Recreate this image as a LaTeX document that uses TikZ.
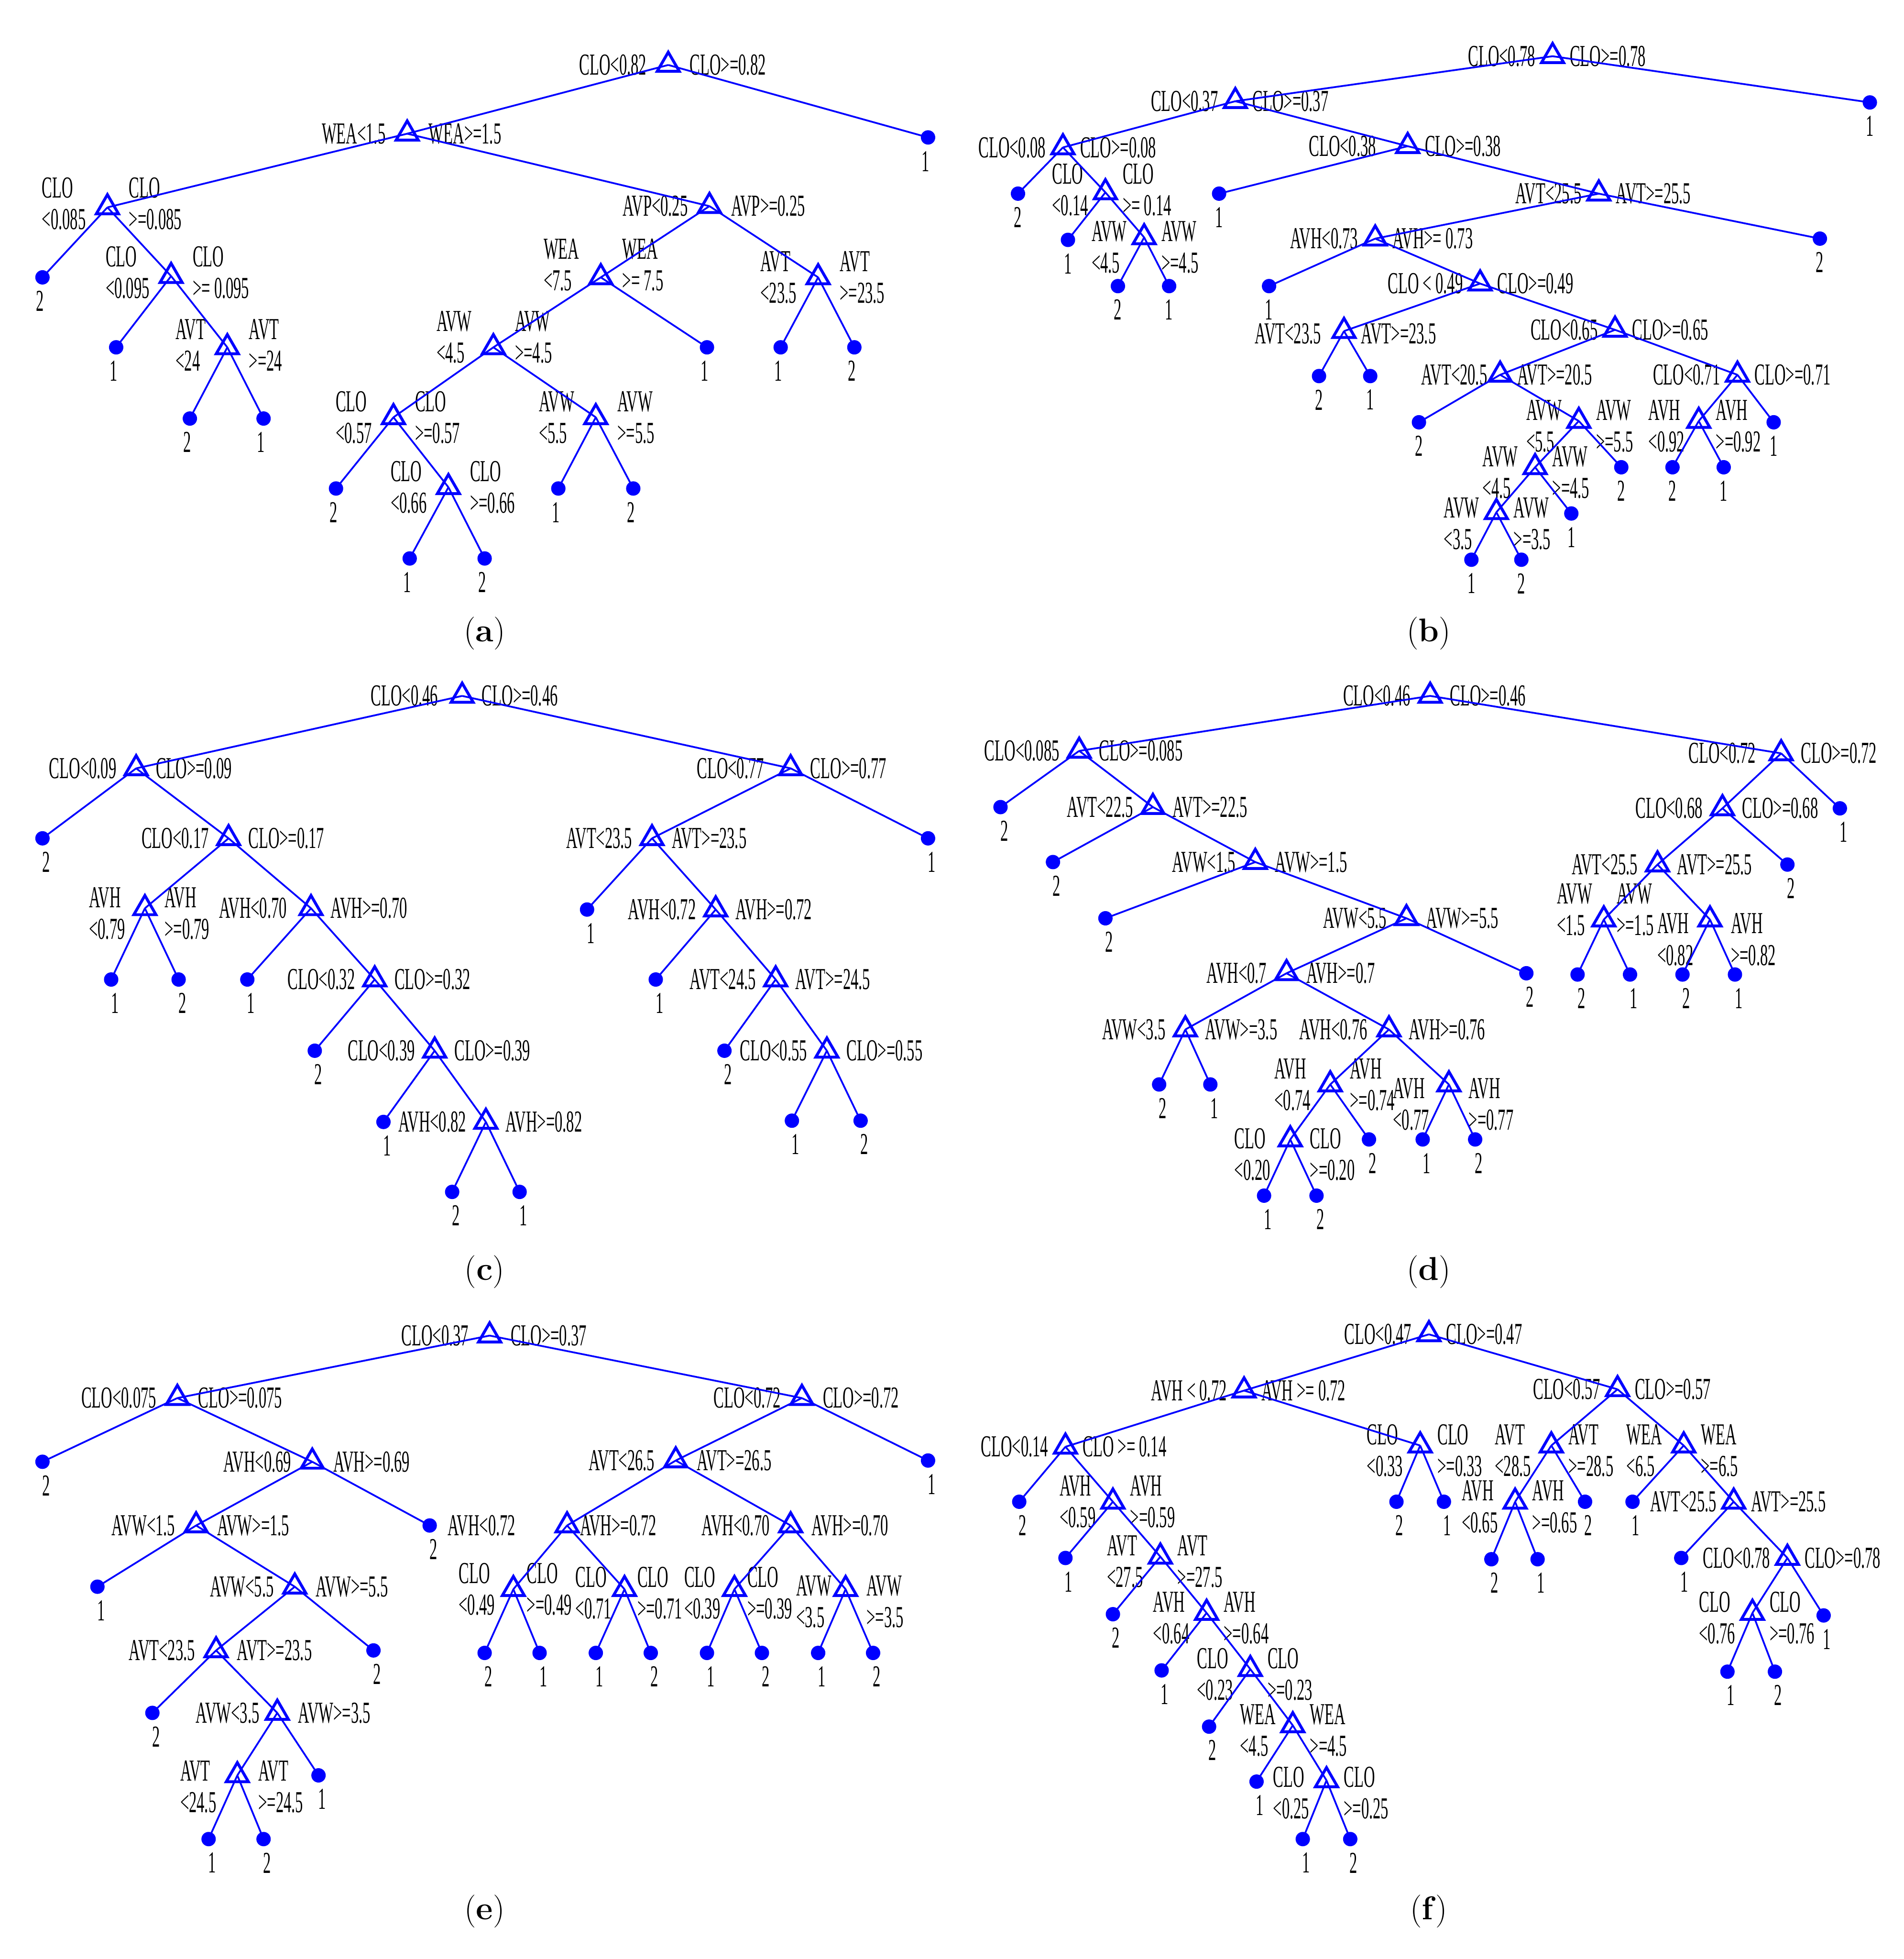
\documentclass[tikz,border=0pt]{standalone}
\usepackage{fontspec}
\usepackage{tikz}
\usetikzlibrary{shapes.geometric,calc}
\newfontfamily\treefont{Liberation Serif}[FakeStretch=0.51]
\definecolor{TreeBlue}{RGB}{0,0,255}
\tikzset{
  branch/.style={draw=TreeBlue,line width=0.8pt},
  splitnode/.style={regular polygon,regular polygon sides=3,draw=TreeBlue,line width=1.3pt,inner sep=0pt,minimum size=4.1mm},
  leafnode/.style={circle,fill=TreeBlue,inner sep=0pt,minimum size=2.3mm},
  rulelabel/.style={font={\treefont\fontsize{13.9}{14.4}\selectfont},inner sep=0pt,align=left},
  classlabel/.style={font={\treefont\fontsize{13.9}{14.4}\selectfont},inner sep=0pt},
  panellabel/.style={font={\fontsize{15}{18}\selectfont},inner sep=0pt}
}
\newcommand{\rulegap}{16}
\newcommand{\leafdx}{0}
\newcommand{\tsplitat}[7]{%
  \node[splitnode] (#1) at (#2) {};
  \node[rulelabel,anchor=east] (#1-lt) at ($(#1.center)+(-#6,#5)$) {#3};
  \node[rulelabel,anchor=west] (#1-rt) at ($(#1.center)+(#7,#5)$) {#4};
}
\newcommand{\tsplit}[6][\rulegap]{\tsplitat{#2}{#3}{#4}{#5}{#6}{#1}{\rulegap}}
\newcommand{\tleaf}[3]{%
  \node[leafnode] (#1) at (#2) {};
  \node[classlabel] (#1-c) at ($(#1.center)+(\leafdx,19)$) {#3};
}

\begin{document}
\begin{tikzpicture}[x=0.02cm,y=-0.02cm]
\useasboundingbox (0,0) rectangle (1524,1568);

\renewcommand{\rulegap}{17}\renewcommand{\leafdx}{-2}
\tsplit{a1}{535,52}{CLO<0.82}{CLO>=0.82}{0}
\tsplit{a2}{326,107}{WEA<1.5}{WEA>=1.5}{0}
\tleaf{a3}{743,110}{1}
\tsplit{a4}{86,166}{CLO\\<0.085}{CLO\\>=0.085}{-3}
\tsplit{a5}{568,165}{AVP<0.25}{AVP>=0.25}{0}
\tleaf{a6}{34,222}{2}
\tsplit{a7}{137,221}{CLO\\<0.095}{CLO\\>= 0.095}{-3}
\tleaf{a8}{93,278}{1}
\tsplit{a9}{182,278}{AVT\\<24}{AVT\\>=24}{-2}
\tleaf{a10}{152,335}{2}
\tleaf{a11}{211,335}{1}
\tsplit{a12}{481,222}{WEA\\<7.5}{WEA\\>= 7.5}{-10}
\tsplit{a13}{655,222}{AVT\\<23.5}{AVT\\>=23.5}{0}
\tsplit{a14}{395,278}{AVW\\<4.5}{AVW\\>=4.5}{-8}
\tleaf{a15}{566,278}{1}
\tleaf{a16}{625,278}{1}
\tleaf{a17}{684,278}{2}
\tsplit{a18}{315,334}{CLO\\<0.57}{CLO\\>=0.57}{0}
\tsplit{a19}{477,334}{AVW\\<5.5}{AVW\\>=5.5}{0}
\tleaf{a20}{269,391}{2}
\tsplit{a21}{359,390}{CLO\\<0.66}{CLO\\>=0.66}{0}
\tleaf{a22}{328,447}{1}
\tleaf{a23}{388,447}{2}
\tleaf{a24}{447,391}{1}
\tleaf{a25}{507,391}{2}
\foreach \p/\c in {a1/a2,a1/a3,a2/a4,a2/a5,a4/a6,a4/a7,a7/a8,a7/a9,a9/a10,a9/a11,a5/a12,a5/a13,a12/a14,a12/a15,a13/a16,a13/a17,a14/a18,a14/a19,a18/a20,a18/a21,a21/a22,a21/a23,a19/a24,a19/a25}
  \draw[branch] (\p.center) -- (\c.center);
\node[panellabel] (capa) at (388,507) {(\textbf{a})};

\renewcommand{\rulegap}{13.5}\renewcommand{\leafdx}{0}
\tsplit{b1}{1243,45}{CLO<0.78}{CLO>=0.78}{0}
\tsplit{b2}{989,81}{CLO<0.37}{CLO>=0.37}{0}
\tleaf{b3}{1497,82}{1}
\tsplit{b4}{851,118}{CLO<0.08}{CLO>=0.08}{0}
\tsplit[25]{b5}{1127,117}{CLO<0.38}{CLO>=0.38}{0}
\tleaf{b6}{815,155}{2}
\tsplit{b7}{885,154}{CLO\\<0.14}{CLO\\>= 0.14}{-2}
\tleaf{b8}{855,192}{1}
\tsplit{b9}{916,190}{AVW\\<4.5}{AVW\\>=4.5}{8}
\tleaf{b10}{895,229}{2}
\tleaf{b11}{936,229}{1}
\tleaf{b12}{976,155}{1}
\tsplit{b13}{1280,155}{AVT<25.5}{AVT>=25.5}{0}
\tsplit{b14}{1101,191}{AVH<0.73}{AVH>= 0.73}{0}
\tleaf{b15}{1457,191}{2}
\tleaf{b16}{1016,229}{1}
\tsplit{b17}{1185,227}{CLO < 0.49}{CLO>=0.49}{0}
\tsplit[18]{b18}{1076,265}{AVT<23.5}{AVT>=23.5}{2}
\tsplit{b19}{1293,264}{CLO<0.65}{CLO>=0.65}{0}
\tleaf{b20}{1056,301}{2}
\tleaf{b21}{1097,301}{1}
\tsplit[10]{b22}{1201,300}{AVT<20.5}{AVT>=20.5}{0}
\tsplit{b23}{1391,300}{CLO<0.71}{CLO>=0.71}{0}
\tleaf{b24}{1136,338}{2}
\tsplit{b25}{1264,337}{AVW\\<5.5}{AVW\\>=5.5}{4}
\tsplit{b26}{1229,374}{AVW\\<4.5}{AVW\\>=4.5}{4}
\tleaf{b27}{1298,374}{2}
\tsplit{b28}{1198,410}{AVW\\<3.5}{AVW\\>=3.5}{9}
\tleaf{b29}{1258,411}{1}
\tleaf{b30}{1178,448}{1}
\tleaf{b31}{1218,448}{2}
\tsplit[11]{b32}{1360,337}{AVH\\<0.92}{AVH\\>=0.92}{4}
\tleaf{b33}{1420,338}{1}
\tleaf{b34}{1339,374}{2}
\tleaf{b35}{1380,374}{1}
\foreach \p/\c in {b1/b2,b1/b3,b2/b4,b2/b5,b4/b6,b4/b7,b7/b8,b7/b9,b9/b10,b9/b11,b5/b12,b5/b13,b13/b14,b13/b15,b14/b16,b14/b17,b17/b18,b17/b19,b18/b20,b18/b21,b19/b22,b19/b23,b22/b24,b22/b25,b25/b26,b25/b27,b26/b28,b26/b29,b28/b30,b28/b31,b23/b32,b23/b33,b32/b34,b32/b35}
  \draw[branch] (\p.center) -- (\c.center);
\node[panellabel] (capb) at (1144,507) {(\textbf{b})};

\renewcommand{\rulegap}{15.5}\renewcommand{\leafdx}{3}
\tsplit[19]{c1}{370,557}{CLO<0.46}{CLO>=0.46}{0}
\tsplit{c2}{109,615}{CLO<0.09}{CLO>=0.09}{0}
\tsplit[21]{c3}{633,615}{CLO<0.77}{CLO>=0.77}{0}
\tleaf{c4}{34,671}{2}
\tsplit{c5}{183,671}{CLO<0.17}{CLO>=0.17}{0}
\tsplit{c6}{116,727}{AVH\\<0.79}{AVH\\>=0.79}{4}
\tsplit[19]{c7}{249,727}{AVH<0.70}{AVH>=0.70}{0}
\tleaf{c8}{89,784}{1}
\tleaf{c9}{143,784}{2}
\tleaf{c10}{198,784}{1}
\tsplit{c11}{300,784}{CLO<0.32}{CLO>=0.32}{0}
\tleaf{c12}{252,841}{2}
\tsplit{c13}{348,841}{CLO<0.39}{CLO>=0.39}{0}
\tleaf{c14}{307,898}{1}
\tsplit{c15}{389,898}{AVH<0.82}{AVH>=0.82}{0}
\tleaf{c16}{362,954}{2}
\tleaf{c17}{416,954}{1}
\tsplit{c18}{522,671}{AVT<23.5}{AVT>=23.5}{0}
\tleaf{c19}{743,671}{1}
\tleaf{c20}{470,728}{1}
\tsplit{c21}{573,728}{AVH<0.72}{AVH>=0.72}{0}
\tleaf{c22}{525,784}{1}
\tsplit{c23}{621,784}{AVT<24.5}{AVT>=24.5}{0}
\tleaf{c24}{580,841}{2}
\tsplit{c25}{662,841}{CLO<0.55}{CLO>=0.55}{0}
\tleaf{c26}{634,897}{1}
\tleaf{c27}{689,897}{2}
\foreach \p/\c in {c1/c2,c1/c3,c2/c4,c2/c5,c5/c6,c5/c7,c6/c8,c6/c9,c7/c10,c7/c11,c11/c12,c11/c13,c13/c14,c13/c15,c15/c16,c15/c17,c3/c18,c3/c19,c18/c20,c18/c21,c21/c22,c21/c23,c23/c24,c23/c25,c25/c26,c25/c27}
  \draw[branch] (\p.center) -- (\c.center);
\node[panellabel] (capc) at (388,1018) {(\textbf{c})};

\renewcommand{\rulegap}{15.5}\renewcommand{\leafdx}{3}
\tsplit{d1}{1145,557}{CLO<0.46}{CLO>=0.46}{0}
\tsplit{d2}{864,601}{CLO<0.085}{CLO>=0.085}{0}
\tsplit[20]{d3}{1426,603}{CLO<0.72}{CLO>=0.72}{0}
\tleaf{d4}{801,646}{2}
\tsplit{d5}{923,646}{AVT<22.5}{AVT>=22.5}{0}
\tleaf{d6}{843,690}{2}
\tsplit{d7}{1005,690}{AVW<1.5}{AVW>=1.5}{0}
\tleaf{d8}{885,735}{2}
\tsplit{d9}{1126,735}{AVW<5.5}{AVW>=5.5}{0}
\tsplit{d10}{1030,779}{AVH<0.7}{AVH>=0.7}{0}
\tleaf{d11}{1222,779}{2}
\tsplit{d12}{949,824}{AVW<3.5}{AVW>=3.5}{0}
\tsplit[17]{d13}{1112,824}{AVH<0.76}{AVH>=0.76}{0}
\tleaf{d14}{928,868}{2}
\tleaf{d15}{969,868}{1}
\tsplit{d16}{1065,868}{AVH\\<0.74}{AVH\\>=0.74}{0}
\tsplit{d17}{1160,868}{AVH\\<0.77}{AVH\\>=0.77}{16}
\tsplit{d18}{1033,912}{CLO\\<0.20}{CLO\\>=0.20}{12}
\tleaf{d19}{1096,912}{2}
\tleaf{d20}{1012,957}{1}
\tleaf{d21}{1054,957}{2}
\tleaf{d22}{1139,912}{1}
\tleaf{d23}{1181,912}{2}
\tsplit{d24}{1379,647}{CLO<0.68}{CLO>=0.68}{0}
\tleaf{d25}{1473,647}{1}
\tsplit{d26}{1327,692}{AVT<25.5}{AVT>=25.5}{0}
\tleaf{d27}{1431,692}{2}
\tsplitat{d28}{1284,736}{AVW\\<1.5}{AVW\\>=1.5}{-8}{9}{10}
\tsplitat{d29}{1369,736}{AVH\\<0.82}{AVH\\>=0.82}{16}{13}{16.5}
\tleaf{d30}{1263,780}{2}
\tleaf{d31}{1305,780}{1}
\tleaf{d32}{1347,780}{2}
\tleaf{d33}{1389,780}{1}
\foreach \p/\c in {d1/d2,d1/d3,d2/d4,d2/d5,d5/d6,d5/d7,d7/d8,d7/d9,d9/d10,d9/d11,d10/d12,d10/d13,d12/d14,d12/d15,d13/d16,d13/d17,d16/d18,d16/d19,d18/d20,d18/d21,d17/d22,d17/d23,d3/d24,d3/d25,d24/d26,d24/d27,d26/d28,d26/d29,d28/d30,d28/d31,d29/d32,d29/d33}
  \draw[branch] (\p.center) -- (\c.center);
\node[panellabel] (capd) at (1144,1018) {(\textbf{d})};

\renewcommand{\rulegap}{16.5}\renewcommand{\leafdx}{3}
\tsplit{e1}{392,1069}{CLO<0.37}{CLO>=0.37}{0}
\tsplit{e2}{142,1119}{CLO<0.075}{CLO>=0.075}{0}
\tsplit{e3}{642,1119}{CLO<0.72}{CLO>=0.72}{0}
\tleaf{e4}{34,1170}{2}
\tsplit{e5}{250,1170}{AVH<0.69}{AVH>=0.69}{0}
\tsplit{e6}{157,1221}{AVW<1.5}{AVW>=1.5}{0}
\tleaf{e7}{344,1221}{2}
\tleaf{e8}{78,1270}{1}
\tsplit{e9}{236,1270}{AVW<5.5}{AVW>=5.5}{0}
\tsplit{e10}{173,1321}{AVT<23.5}{AVT>=23.5}{0}
\tleaf{e11}{299,1321}{2}
\tleaf{e12}{122,1371}{2}
\tsplit[14]{e13}{222,1371}{AVW<3.5}{AVW>=3.5}{0}
\tsplit{e14}{190,1421}{AVT\\<24.5}{AVT\\>=24.5}{9}
\tleaf{e15}{255,1421}{1}
\tleaf{e16}{167,1472}{1}
\tleaf{e17}{211,1472}{2}
\tsplit{e18}{541,1169}{AVT<26.5}{AVT>=26.5}{0}
\tleaf{e19}{743,1169}{1}
\tsplitat{e20}{454,1221}{AVH<0.72}{AVH>=0.72}{0}{41}{10}
\tsplit{e21}{633,1221}{AVH<0.70}{AVH>=0.70}{0}
\tsplitat{e22}{411,1272}{CLO\\<0.49}{CLO\\>=0.49}{0}{14.5}{10.5}
\tsplitat{e23}{500,1272}{CLO\\<0.71}{CLO\\>=0.71}{3}{10}{10}
\tsplitat{e24}{588,1272}{CLO\\<0.39}{CLO\\>=0.39}{3}{11}{10}
\tsplitat{e25}{677,1272}{AVW\\<3.5}{AVW\\>=3.5}{10}{11}{16.5}
\tleaf{e26}{388,1323}{2}
\tleaf{e27}{432,1323}{1}
\tleaf{e28}{477,1323}{1}
\tleaf{e29}{521,1323}{2}
\tleaf{e30}{566,1323}{1}
\tleaf{e31}{610,1323}{2}
\tleaf{e32}{655,1323}{1}
\tleaf{e33}{699,1323}{2}
\foreach \p/\c in {e1/e2,e1/e3,e2/e4,e2/e5,e5/e6,e5/e7,e6/e8,e6/e9,e9/e10,e9/e11,e10/e12,e10/e13,e13/e14,e13/e15,e14/e16,e14/e17,e3/e18,e3/e19,e18/e20,e18/e21,e20/e22,e20/e23,e21/e24,e21/e25,e22/e26,e22/e27,e23/e28,e23/e29,e24/e30,e24/e31,e25/e32,e25/e33}
  \draw[branch] (\p.center) -- (\c.center);
\node[panellabel] (cape) at (388,1530) {(\textbf{e})};

\renewcommand{\rulegap}{13.5}\renewcommand{\leafdx}{2.5}
\tsplit{f1}{1144,1068}{CLO<0.47}{CLO>=0.47}{0}
\tsplit{f2}{996,1113}{AVH < 0.72}{AVH >= 0.72}{0}
\tsplit{f3}{1295,1112}{CLO<0.57}{CLO>=0.57}{0}
\tsplit{f4}{853,1158}{CLO<0.14}{CLO >= 0.14}{0}
\tsplit{f5}{1137,1157}{CLO\\<0.33}{CLO\\>=0.33}{4}
\tleaf{f6}{816,1202}{2}
\tsplit{f7}{891,1202}{AVH\\<0.59}{AVH\\>=0.59}{0}
\tleaf{f8}{853,1247}{1}
\tsplit{f9}{929,1246}{AVT\\<27.5}{AVT\\>=27.5}{4}
\tleaf{f10}{891,1292}{2}
\tsplit{f11}{966,1291}{AVH\\<0.64}{AVH\\>=0.64}{4}
\tleaf{f12}{930,1337}{1}
\tsplit{f13}{1001,1336}{CLO\\<0.23}{CLO\\>=0.23}{4}
\tleaf{f14}{968,1382}{2}
\tsplit{f15}{1035,1381}{WEA\\<4.5}{WEA\\>=4.5}{4}
\tleaf{f16}{1006,1426}{1}
\tsplit{f17}{1062,1425}{CLO\\<0.25}{CLO\\>=0.25}{10}
\tleaf{f18}{1043,1472}{1}
\tleaf{f19}{1081,1472}{2}
\tleaf{f20}{1118,1202}{2}
\tleaf{f21}{1156,1202}{1}
\tsplit[16]{f22}{1242,1157}{AVT\\<28.5}{AVT\\>=28.5}{4}
\tsplit[17]{f23}{1348,1157}{WEA\\<6.5}{WEA\\>=6.5}{4}
\tsplit{f24}{1213,1202}{AVH\\<0.65}{AVH\\>=0.65}{4}
\tleaf{f25}{1269,1202}{2}
\tleaf{f26}{1194,1248}{2}
\tleaf{f27}{1231,1248}{1}
\tleaf{f28}{1307,1202}{1}
\tsplit{f29}{1388,1202}{AVT<25.5}{AVT>=25.5}{0}
\tleaf{f30}{1346,1247}{1}
\tsplit{f31}{1431,1247}{CLO<0.78}{CLO>=0.78}{0}
\tsplit{f32}{1403,1291}{CLO\\<0.76}{CLO\\>=0.76}{4}
\tleaf{f33}{1460,1293}{1}
\tleaf{f34}{1383,1338}{1}
\tleaf{f35}{1421,1338}{2}
\foreach \p/\c in {f1/f2,f1/f3,f2/f4,f2/f5,f4/f6,f4/f7,f7/f8,f7/f9,f9/f10,f9/f11,f11/f12,f11/f13,f13/f14,f13/f15,f15/f16,f15/f17,f17/f18,f17/f19,f5/f20,f5/f21,f3/f22,f3/f23,f22/f24,f22/f25,f24/f26,f24/f27,f23/f28,f23/f29,f29/f30,f29/f31,f31/f32,f31/f33,f32/f34,f32/f35}
  \draw[branch] (\p.center) -- (\c.center);
\node[panellabel] (capf) at (1144,1530) {(\textbf{f})};
\end{tikzpicture}
\end{document}
